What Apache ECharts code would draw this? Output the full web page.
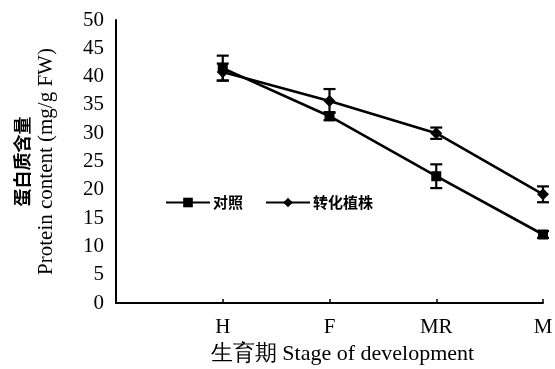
<!DOCTYPE html>
<html><head><meta charset="utf-8">
<script src="https://cdn.jsdelivr.net/npm/echarts@6/dist/echarts.min.js"></script>
<style>html,body{margin:0;padding:0;background:#fff}#c{width:555px;height:369px}</style>
</head><body><div id="c"></div>
<script>
const categories = ['', 'H', 'F', 'MR', 'M'];
const controlValues = [null, 41.5, 33.0, 22.4, 12.1];
const controlErr = [null, 2.2, 0.7, 2.1, 0.6];
const transValues = [null, 40.8, 35.7, 30.0, 19.2];
const transErr = [null, 1.5, 2.1, 1.0, 1.4];
const yTicks = [0, 5, 10, 15, 20, 25, 30, 35, 40, 45, 50];

const serif = '"Liberation Serif", "Times New Roman", serif';
const cjk = '"Noto Sans CJK SC", sans-serif';

function errData(vals, errs) {
  const out = [];
  vals.forEach((v, i) => { if (v != null) out.push([i, v - errs[i], v + errs[i]]); });
  return out;
}
function errRender(params, api) {
  const x = api.value(0);
  const lo = api.coord([x, api.value(1)]);
  const hi = api.coord([x, api.value(2)]);
  const hw = 6;
  const st = { stroke: '#000', lineWidth: 2.2 };
  return { type: 'group', children: [
    { type: 'line', shape: { x1: lo[0], y1: lo[1], x2: hi[0], y2: hi[1] }, style: st },
    { type: 'line', shape: { x1: lo[0] - hw, y1: lo[1], x2: lo[0] + hw, y2: lo[1] }, style: st },
    { type: 'line', shape: { x1: hi[0] - hw, y1: hi[1], x2: hi[0] + hw, y2: hi[1] }, style: st }
  ]};
}

const chart = echarts.init(document.getElementById('c'));
chart.setOption({
  animation: false,
  backgroundColor: '#fff',
  grid: { left: 116, right: 12, top: 20, bottom: 66, containLabel: false, outerBoundsMode: 'none' },
  legend: {
    data: ['对照', '转化植株'],
    left: 160, top: 190, itemWidth: 44, itemHeight: 12, itemGap: 22,
    textStyle: { fontFamily: cjk, fontWeight: 'bold', fontSize: 15, color: '#000', padding: [0, 0, 0, -2] }
  },
  xAxis: {
    type: 'category', data: categories, boundaryGap: false,
    axisLine: { lineStyle: { color: '#000', width: 2 } },
    axisTick: { inside: true, length: 4, lineStyle: { color: '#000', width: 1.5 }, interval: (i) => i > 0 },
    axisLabel: { color: '#000', fontFamily: serif, fontSize: 21, margin: 14, interval: 0 },
    name: '生育期 Stage of development', nameLocation: 'middle', nameGap: 39,
    nameTextStyle: { color: '#000', fontFamily: serif, fontSize: 22, padding: [0, 0, 0, 26] }
  },
  yAxis: {
    type: 'value', min: 0, max: 50, interval: 5,
    axisLine: { show: true, lineStyle: { color: '#000', width: 2 } },
    axisTick: { show: false },
    splitLine: { show: false },
    axisLabel: { color: '#000', fontFamily: serif, fontSize: 21, margin: 12,
      formatter: (v) => yTicks.includes(v) ? String(v) : '' },
    name: '{cn|蛋白质含量}\n{en|Protein content (mg/g FW)}', nameLocation: 'middle', nameGap: 58, nameRotate: 90,
    nameTextStyle: { color: '#000', rich: {
      cn: { fontFamily: cjk, fontWeight: 'bold', fontSize: 18, lineHeight: 24, color: '#000' },
      en: { fontFamily: serif, fontSize: 21, lineHeight: 24, color: '#000' } } }
  },
  series: [
    { name: '对照', type: 'line', data: controlValues, symbol: 'rect', symbolSize: 10,
      lineStyle: { color: '#000', width: 2.6 }, itemStyle: { color: '#000' }, z: 3 },
    { name: '转化植株', type: 'line', data: transValues, symbol: 'diamond', symbolSize: 12,
      lineStyle: { color: '#000', width: 2.6 }, itemStyle: { color: '#000' }, z: 3 },
    { type: 'custom', renderItem: errRender, data: errData(controlValues, controlErr), z: 2, silent: true },
    { type: 'custom', renderItem: errRender, data: errData(transValues, transErr), z: 2, silent: true }
  ]
});
</script></body></html>
